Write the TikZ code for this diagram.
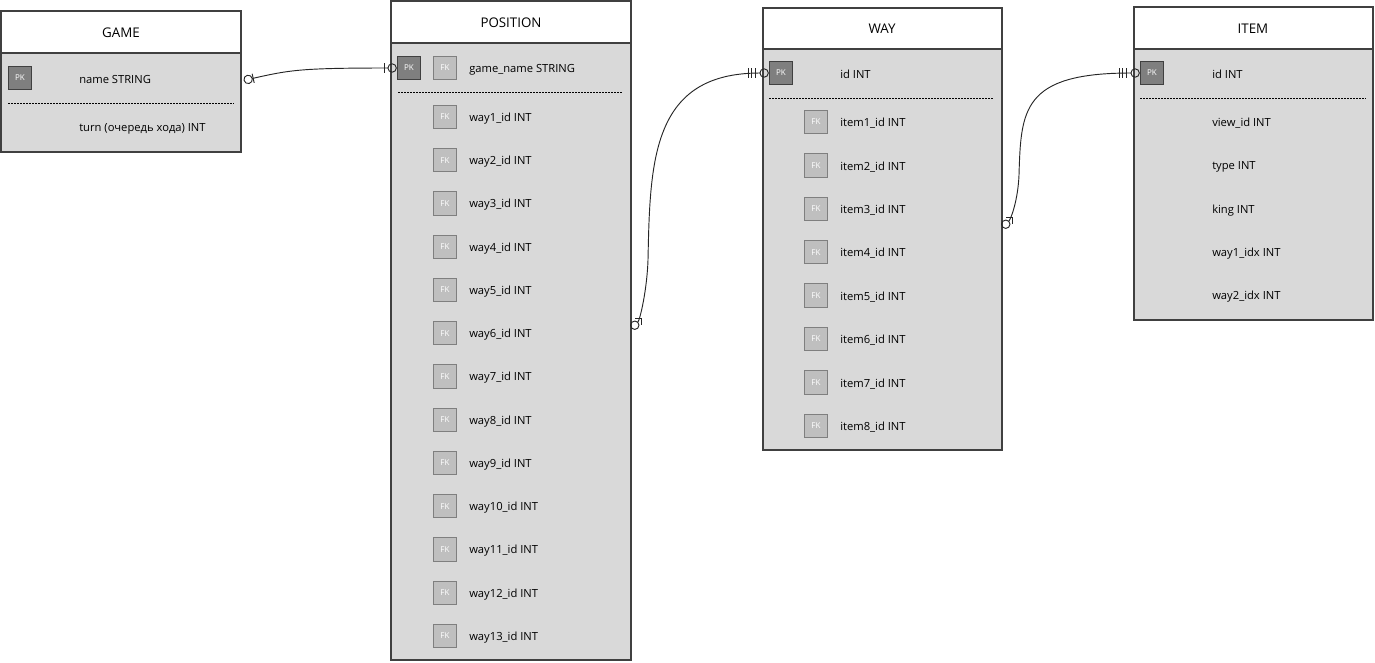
\documentclass[tikz,border=0pt]{standalone}
\usepackage{fontspec}
\setmainfont{Open Sans}
\usetikzlibrary{arrows.meta}

\definecolor{bodygray}{HTML}{D9D9D9}
\definecolor{pkgray}{HTML}{7F7F7F}
\definecolor{fkgray}{HTML}{BFBFBF}
\definecolor{edgegray}{HTML}{404040}
\definecolor{linegray}{HTML}{262626}

\begin{document}
\begin{tikzpicture}[x=0.75pt, y=-0.75pt,
  tbl/.style={draw=edgegray, fill=bodygray, line width=0.9pt},
  hdr/.style={draw=edgegray, fill=white, line width=0.9pt},
  title/.style={font=\fontsize{10}{12}\selectfont},
  key/.style={line width=0.8pt, minimum size=17.5pt, inner sep=0pt, text=white, font=\fontsize{6}{7}\selectfont},
  pk/.style={key, draw=edgegray, fill=pkgray},
  fk/.style={key, draw=pkgray, fill=fkgray},
  field/.style={anchor=west, inner sep=0pt, yshift=-1pt, font=\fontsize{8.4}{10}\selectfont},
  sepline/.style={dash pattern=on 1.5pt off 0.75pt, line width=0.6pt},
  rel/.style={draw=linegray, line width=0.7pt}
]
  \useasboundingbox (0, 0) rectangle (1375, 662);

  % GAME
  \draw [tbl] (1, 11) rectangle (241, 152);
  \draw [hdr] (1, 11) rectangle (241, 53);
  \node [title] (gameT) at (121, 33) {GAME};
  \node [pk] (gamePK) at (20, 78) {PK};
  \node [field] (gameName) at (79, 78) {name STRING};
  \draw [sepline] (8, 103) -- (234, 103);
  \node [field] (gameTurn) at (79, 128) {turn (очередь хода) INT};
  \coordinate (gameR) at (241, 81);

  % POSITION
  \draw [tbl] (391, 1) rectangle (631, 660);
  \draw [hdr] (391, 1) rectangle (631, 43);
  \node [title] (posT) at (511, 23) {POSITION};
  \node [pk] (posPK) at (409, 68) {PK};
  \node [fk] (posFK0) at (445, 68) {FK};
  \node [field] (posGame) at (469, 68) {game\_name STRING};
  \draw [sepline] (398, 92) -- (623, 92);
  \foreach \i in {1,...,13} {
    \node [fk] (posFK\i) at (445, {117+43.25*(\i-1)}) {FK};
    \node [field] (posWay\i) at (469, {117+43.25*(\i-1)}) {way\i\_id INT};
  }
  \coordinate (posR) at (631, 329);

  % WAY
  \draw [tbl] (763, 8) rectangle (1002, 450);
  \draw [hdr] (763, 8) rectangle (1002, 49);
  \node [title] (wayT) at (882, 29) {WAY};
  \node [pk] (wayPK) at (781, 73) {PK};
  \node [field] (wayId) at (840, 73) {id INT};
  \draw [sepline] (769, 98) -- (994, 98);
  \foreach \i in {1,...,8} {
    \node [fk] (wayFK\i) at (816, {122+43.4*(\i-1)}) {FK};
    \node [field] (wayItem\i) at (840, {122+43.4*(\i-1)}) {item\i\_id INT};
  }
  \coordinate (wayR) at (1002, 228);

  % ITEM
  \draw [tbl] (1134, 7) rectangle (1373, 320);
  \draw [hdr] (1134, 7) rectangle (1373, 49);
  \node [title] (itemT) at (1253, 29) {ITEM};
  \node [pk] (itemPK) at (1152, 73) {PK};
  \node [field] (itemId) at (1212, 73) {id INT};
  \draw [sepline] (1140, 98) -- (1366, 98);
  \foreach \name [count=\i] in {view\_id, type, king, way1\_idx, way2\_idx} {
    \node [field] (itemF\i) at (1212, {122+43.4*(\i-1)}) {\name{} INT};
  }

  % relations
  \draw [rel, {Circle[open,length=7pt,width=7pt,sep=2pt]Bar[width=7pt]}-{Bar[width=7pt,sep=2pt]Circle[open,length=7pt,width=7pt]}]
    (gameR) .. controls (290, 70) and (300, 68) .. (posPK.west);
  \draw [rel, {Circle[open,length=7pt,width=7pt,sep=0.5pt]Straight Barb[reversed,length=3.5pt,width=7pt]}-{Bar[width=7pt,sep=1.6pt]Bar[width=7pt,sep=1.6pt]Bar[width=7pt,sep=3pt]Circle[open,length=7pt,width=7pt]}]
    (posR) .. controls (640, 320) and (647, 290) .. (648, 260)
    .. controls (650, 160) and (652, 73) .. (wayPK.west);
  \draw [rel, {Circle[open,length=7pt,width=7pt,sep=0.5pt]Straight Barb[reversed,length=3.5pt,width=7pt]}-{Bar[width=7pt,sep=1.6pt]Bar[width=7pt,sep=1.6pt]Bar[width=7pt,sep=3pt]Circle[open,length=7pt,width=7pt]}]
    (wayR) .. controls (1011, 219) and (1018, 200) .. (1019, 175)
    .. controls (1021, 110) and (1022, 73) .. (itemPK.west);
\end{tikzpicture}
\end{document}
